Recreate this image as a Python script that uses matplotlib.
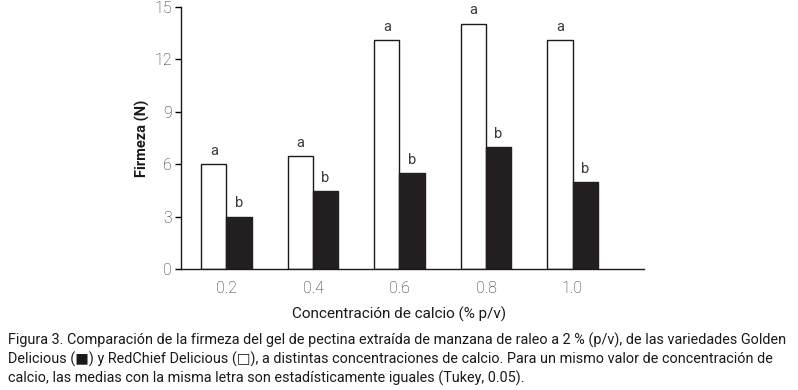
import matplotlib
matplotlib.use("Agg")
import matplotlib.pyplot as plt
import numpy as np

categories = ["0.2", "0.4", "0.6", "0.8", "1.0"]
redchief = [6.0, 6.45, 13.1, 14.05, 13.1]      # white bars
golden = [3.0, 4.48, 5.48, 7.0, 5.0]           # black bars
letters_white = ["a", "a", "a", "a", "a"]
letters_black = ["b", "b", "b", "b", "b"]
yticks = [0, 3, 6, 9, 12, 15]

caption = ("Figura 3. Comparación de la firmeza del gel de pectina extraída de manzana de raleo a 2 % (p/v), de las variedades Golden\n"
           "Delicious (\u25a0) y RedChief Delicious (\u25a1), a distintas concentraciones de calcio. Para un mismo valor de concentración de\n"
           "calcio, las medias con la misma letra son estadísticamente iguales (Tukey, 0.05).")

plt.rcParams['font.family'] = ['Roboto', 'DejaVu Sans']

fig = plt.figure(figsize=(7.98, 3.9), dpi=100)
ax = fig.add_axes([0.2274, 0.3103, 0.58, 0.6717])

x = np.arange(len(categories))
w = 0.29
ax.bar(x - w/2, redchief, w, color="white", edgecolor="#1a1a1a", linewidth=1.0)
ax.bar(x + w/2, golden, w, color="#231f20", edgecolor="#231f20", linewidth=1.0)

for i in range(len(categories)):
    ax.text(x[i] - w/2, redchief[i] + 0.35, letters_white[i], ha="center", va="bottom",
            fontsize=10.5, color="#3a3a3a")
    ax.text(x[i] + w/2, golden[i] + 0.35, letters_black[i], ha="center", va="bottom",
            fontsize=10.5, color="#3a3a3a")

ax.set_xlim(-0.52, 4.83)
ax.set_ylim(0, 15)
ax.set_yticks(yticks)
ax.set_xticks(x)
ax.set_xticklabels(categories, fontweight="light")
ax.set_yticklabels([str(t) for t in yticks], fontweight="light")
ax.tick_params(axis="x", length=0, pad=9, labelsize=11.5, labelcolor="#2a2a2a")
ax.tick_params(axis="y", length=4, width=1, direction="out", pad=3, labelsize=11.5, labelcolor="#2a2a2a")
for s in ["top", "right"]:
    ax.spines[s].set_visible(False)
for s in ["left", "bottom"]:
    ax.spines[s].set_linewidth(1.0)
    ax.spines[s].set_color("#1a1a1a")

ax.set_ylabel("Firmeza (N)", fontsize=10.5, fontweight="bold", color="#1a1a1a")
ax.yaxis.set_label_coords(-0.068, 0.5)
ax.set_xlabel("Concentración de calcio (% p/v)", fontsize=11, color="#1a1a1a")
ax.xaxis.set_label_coords(0.47, -0.145)

fig.text(0.01, 0.0795, caption, fontsize=10.4, family=['Roboto', 'DejaVu Sans'],
         color="#1a1a1a", ha="left", va="center", linespacing=1.3)

fig.savefig("out.png", dpi=100)
